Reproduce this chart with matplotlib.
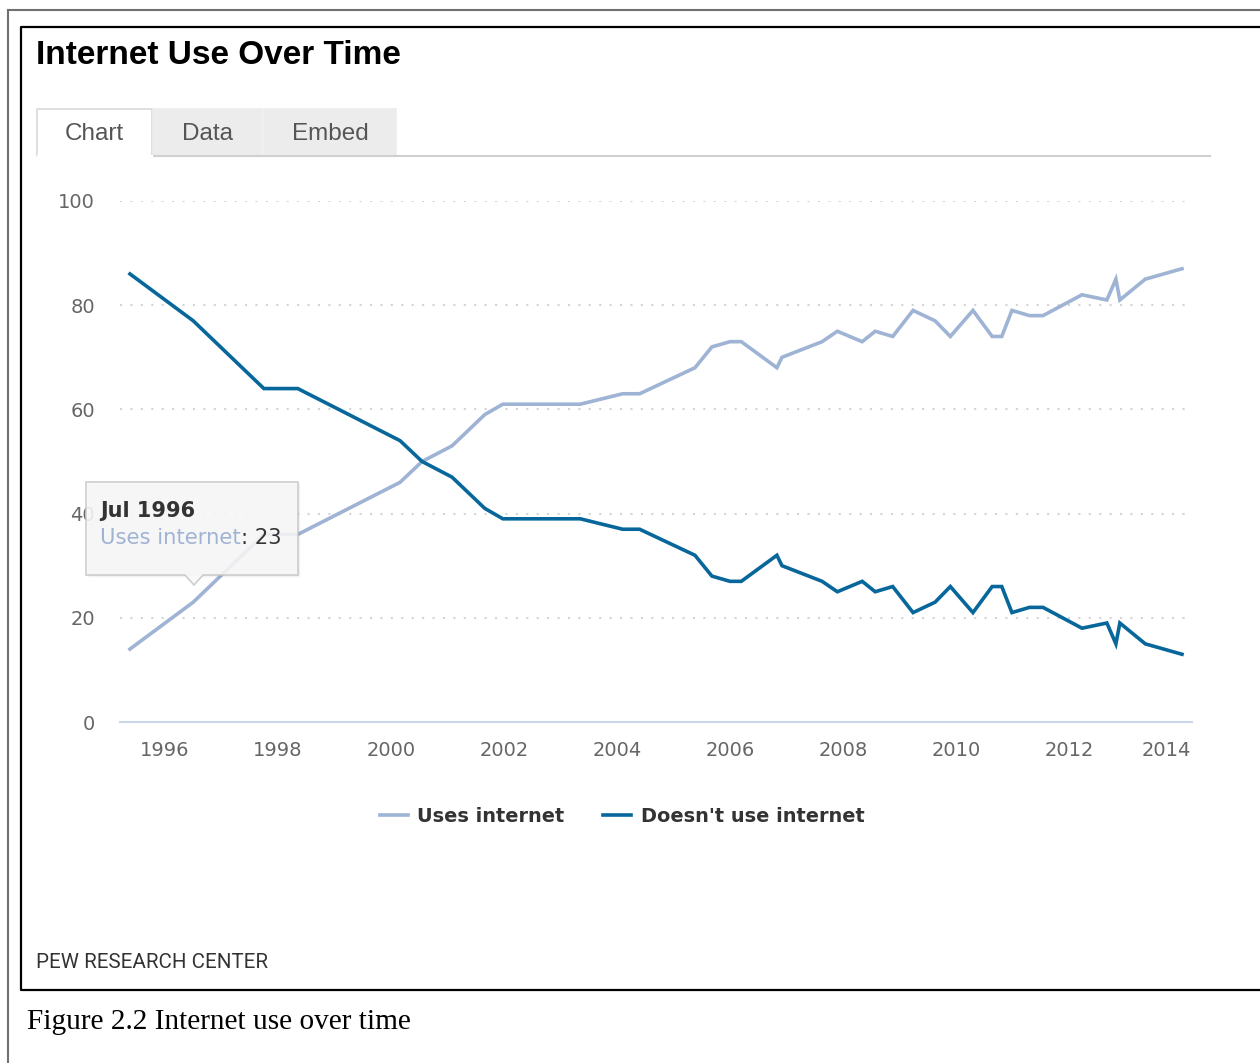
import matplotlib
matplotlib.use("Agg")
import matplotlib.pyplot as plt
import matplotlib.transforms as mtransforms
from matplotlib.patches import Rectangle, Polygon
from matplotlib.lines import Line2D

# ---------------- data ----------------
years = [1995.38, 1996.5, 1997.75, 1998.35, 2000.16, 2000.55, 2001.08, 2001.66,
         2001.98, 2003.35, 2004.1, 2004.4, 2005.38, 2005.68, 2006.0, 2006.2,
         2006.83, 2006.92, 2007.63, 2007.9, 2008.34, 2008.57, 2008.88, 2009.24,
         2009.63, 2009.9, 2010.3, 2010.64, 2010.81, 2010.99, 2011.3, 2011.54,
         2012.23, 2012.67, 2012.83, 2012.9, 2013.35, 2014.0]
uses_internet = [14, 23, 36, 36, 46, 50, 53, 59,
                 61, 61, 63, 63, 68, 72, 73, 73,
                 68, 70, 73, 75, 73, 75, 74, 79,
                 77, 74, 79, 74, 74, 79, 78, 78,
                 82, 81, 85, 81, 85, 87]
doesnt_use = [86, 77, 64, 64, 54, 50, 47, 41,
              39, 39, 37, 37, 32, 28, 27, 27,
              32, 30, 27, 25, 27, 25, 26, 21,
              23, 26, 21, 26, 26, 21, 22, 22,
              18, 19, 15, 19, 15, 13]
series_names = ["Uses internet", "Doesn't use internet"]
x_ticks = [1996, 1998, 2000, 2002, 2004, 2006, 2008, 2010, 2012, 2014]
y_ticks = [0, 20, 40, 60, 80, 100]
title = "Internet Use Over Time"
tabs = ["Chart", "Data", "Embed"]
source = "PEW RESEARCH CENTER"
caption = "Figure 2.2 Internet use over time"
tooltip_date = "Jul 1996"
tooltip_value = 23

# ---------------- figure ----------------
W, H = 1260, 1063
fig = plt.figure(figsize=(W / 100, H / 100), dpi=100)
fig.patch.set_facecolor("white")


def fx(px):
    return px / W


def fy(py):
    return 1 - py / H


C_USES = "#9fb3d5"
C_NOT = "#07679b"

# outer frame lines
fig.add_artist(Line2D([fx(8), fx(8)], [fy(10), fy(1063)], color="#707070", lw=1.5))
fig.add_artist(Line2D([fx(8), fx(1260)], [fy(10), fy(10)], color="#707070", lw=1.5))
# inner box (open to the right)
fig.add_artist(Line2D([fx(1260), fx(21), fx(21), fx(1260)],
                      [fy(27), fy(27), fy(990), fy(990)], color="black", lw=1.6))

# title
fig.text(fx(36), fy(55.5), title, fontsize=24, fontweight="bold",
         family="Liberation Sans", color="#000000", va="center", ha="left")

# tabs
tab_x = [(37, 152), (153, 262), (264, 396)]
for i, (name, (x0, x1)) in enumerate(zip(tabs, tab_x)):
    fc = "white" if i == 0 else "#ececec"
    ec = "#d9d9d9" if i == 0 else "#ececec"
    fig.add_artist(Rectangle((fx(x0), fy(156)), fx(x1) - fx(x0), fy(109) - fy(156),
                             transform=fig.transFigure, facecolor=fc,
                             edgecolor=ec, lw=1.2))
    fig.text(fx((x0 + x1) / 2), fy(134), name, fontsize=17.5,
             family="Liberation Sans", color="#555555", ha="center", va="center")
fig.add_artist(Line2D([fx(152), fx(1210)], [fy(156), fy(156)], color="#d0d0d0", lw=1.5))
fig.add_artist(Line2D([fx(37.5), fx(152)], [fy(156), fy(156)], color="white", lw=1.5))

# axes
ax = fig.add_axes([fx(120), fy(722), fx(1192) - fx(120), fy(201) - fy(722)])
x_left = 1996 + (120 - 165) / 56.5
x_right = 1996 + (1192 - 165) / 56.5
ax.set_xlim(x_left, x_right)
ax.set_ylim(0, 100)
for s in ["top", "right", "left"]:
    ax.spines[s].set_visible(False)
ax.spines["bottom"].set_color("#ccd6eb")
ax.spines["bottom"].set_linewidth(1.5)
ax.set_yticks(y_ticks)
ax.set_xticks(x_ticks)
ax.set_xticklabels([str(t) for t in x_ticks])
ax.tick_params(axis="both", length=0, labelsize=14, labelcolor="#666666")
ax.tick_params(axis="x", pad=14)
ax.tick_params(axis="y", pad=18)
for lab in ax.get_yticklabels() + ax.get_xticklabels():
    lab.set_family("DejaVu Sans")
last = ax.get_xticklabels()[-1]
last.set_ha("right")
last.set_transform(last.get_transform() + mtransforms.ScaledTranslation(9 / 100, 0, fig.dpi_scale_trans))
for t in y_ticks[1:]:
    ax.axhline(t, color="#d4d4d4", lw=1.5, ls=(0, (1, 4)), zorder=1)

l1, = ax.plot(years, uses_internet, color=C_USES, lw=2.6, label=series_names[0],
              solid_joinstyle="miter", zorder=3)
l2, = ax.plot(years, doesnt_use, color=C_NOT, lw=2.6, label=series_names[1],
              solid_joinstyle="miter", zorder=4)

leg = fig.legend(handles=[l1, l2], loc="center", bbox_to_anchor=(fx(622), fy(816)),
                 ncol=2, frameon=False, handlelength=1.45, handletextpad=0.5,
                 columnspacing=2.0, prop={"family": "DejaVu Sans", "weight": "bold", "size": 13.9})
for t in leg.get_texts():
    t.set_color("#333333")

# tooltip
tx0, tx1, ty0, ty1 = 86, 298, 482, 575
for k, a in [(1, 0.05), (2, 0.03), (3, 0.015)]:
    fig.add_artist(Rectangle((fx(tx0 + k), fy(ty1 + k)), fx(tx1) - fx(tx0), fy(ty0) - fy(ty1),
                             transform=fig.transFigure, facecolor="#000000", alpha=a,
                             edgecolor="none", zorder=8))
box = Polygon([(fx(tx0), fy(ty0)), (fx(tx1), fy(ty0)), (fx(tx1), fy(ty1)),
               (fx(203), fy(ty1)), (fx(194), fy(585)), (fx(185), fy(ty1)),
               (fx(tx0), fy(ty1))], closed=True, transform=fig.transFigure,
              facecolor="#f9f9f9", alpha=0.88, edgecolor="#c8c8c8", lw=1.2, zorder=9)
fig.add_artist(box)
fig.text(fx(100), fy(511), tooltip_date, fontsize=15, fontweight="bold",
         family="DejaVu Sans", color="#333333", va="center", ha="left", zorder=10)
t1 = fig.text(fx(100), fy(538), series_names[0], fontsize=15.2,
              family="DejaVu Sans", color=C_USES, va="center", ha="left", zorder=10)
fig.canvas.draw()
bb = t1.get_window_extent()
fig.text(bb.x1 / W, fy(538), ": %d" % tooltip_value, fontsize=15.2,
         family="DejaVu Sans", color="#333333", va="center", ha="left", zorder=10)

# source and caption
fig.text(fx(36), fy(963), source, fontsize=14.8, family="Roboto",
         color="#333333", va="center", ha="left")
fig.text(fx(27), fy(1022), caption, fontsize=21.1, family="Liberation Serif",
         color="#000000", va="center", ha="left")

fig.savefig("out.png", dpi=100, facecolor="white")
